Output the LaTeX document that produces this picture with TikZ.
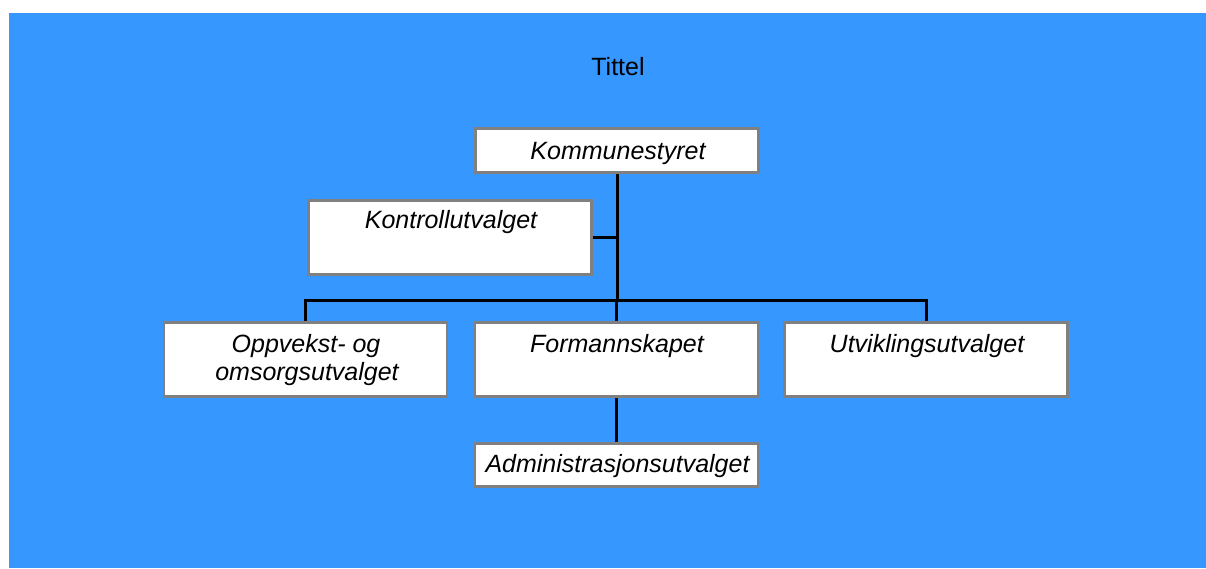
\documentclass[tikz,border=0pt]{standalone}
\usepackage{fontspec}
\setmainfont{Liberation Sans}
\definecolor{bgblue}{RGB}{54,151,255}
\definecolor{boxgray}{RGB}{128,128,128}
\begin{document}
\begin{tikzpicture}[x=1pt,y=-1pt,
  box/.style={draw=boxgray, line width=2.6pt, fill=white, minimum width=283pt, inner sep=0pt, rectangle},
  lbl/.style={font=\fontsize{25}{28}\selectfont\itshape, anchor=base, inner sep=0pt},
  conn/.style={draw=black, line width=3pt}]
\useasboundingbox (0,0) rectangle (1206,568);
\fill[bgblue] (9,13) rectangle (1206,568);
\node[font=\fontsize{25}{28}\selectfont, anchor=base, inner sep=0pt] (title) at (618,75) {Tittel};
% boxes
\node[box, minimum height=44pt] (kommune) at (617,150.5) {};
\node[box, minimum height=74pt] (kontroll) at (450,237.5) {};
\node[box, minimum height=74pt] (opp) at (305.5,359.5) {};
\node[box, minimum height=74pt] (form) at (616.5,359.5) {};
\node[box, minimum height=74pt] (utv) at (926,359.5) {};
\node[box, minimum height=43pt] (admin) at (616.5,465) {};
% labels
\node[lbl] (tkommune) at (618,159) {Kommunestyret};
\node[lbl] (tkontroll) at (451,228) {Kontrollutvalget};
\node[lbl] (topp1) at (306,352) {Oppvekst- og};
\node[lbl] (topp2) at (307,380) {omsorgsutvalget};
\node[lbl] (tform) at (617,352) {Formannskapet};
\node[lbl] (tutv) at (927,352) {Utviklingsutvalget};
\node[lbl] (tadmin) at (617.5,472) {Administrasjonsutvalget};
% connectors
\coordinate (bar) at (617,300);
\draw[conn] (kommune.south) -- (kommune.south |- bar);
\draw[conn] (kontroll.east) -- (kontroll.east -| kommune.south);
\draw[conn] (opp.north) |- (bar) -| (utv.north);
\draw[conn] (form.north |- bar) -- (form.north);
\draw[conn] (form.south) -- (form.south |- admin.north);
\end{tikzpicture}
\end{document}
